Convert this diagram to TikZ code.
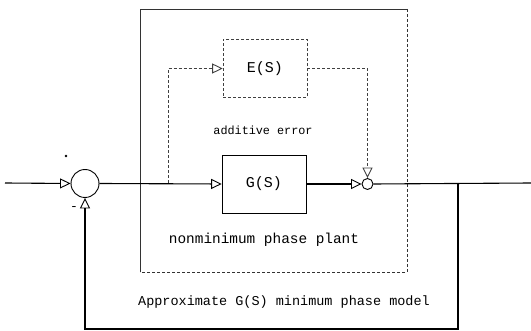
\documentclass[tikz,border=0pt]{standalone}
\usepackage{fontspec}
\setmonofont{Liberation Mono}
\usetikzlibrary{arrows.meta}
\tikzset{sig/.style={black,line width=1.1pt}, errline/.style={black!75,line width=0.6pt,densely dashed}, tri/.style={-{Triangle[open,length=10.5pt,width=10pt,line width=0.9pt]}}}
\tikzset{sumnode/.style={circle,draw,line width=0.9pt,minimum size=28pt,inner sep=0pt}, smallsum/.style={circle,draw,line width=0.9pt,minimum size=11pt,inner sep=0pt}, blockbox/.style={draw,line width=0.7pt,minimum width=84pt,minimum height=58pt}, errbox/.style={blockbox,black!75,densely dashed,line width=0.6pt}, lbl/.style={font=\ttfamily\fontsize{#1}{#1}\selectfont,inner sep=0pt}}

\begin{document}
\begin{tikzpicture}[x=1pt,y=-1pt]
   \useasboundingbox (0,0) rectangle (531,331);
   % outer plant box
   \draw[black!80,line width=0.7pt] (140,272) -- (140,9) -- (407,9);
   \draw[black!80,line width=0.7pt,densely dashed] (407,9) -- (407,272) -- (140,272);
   % blocks
   \node[sumnode] (sum) at (85,183.5) {};
   \node[smallsum] (add) at (367.5,184) {};
   \node[blockbox] (G) at (264,184) {\ttfamily\fontsize{15}{15}\selectfont G(S)};
   \node[errbox] (E) at (265,68.5) {\ttfamily\fontsize{15}{15}\selectfont\color{black}E(S)};
   \node[lbl=11.8] (adderr) at (263,130) {additive error};
   \node[lbl=14.4] (plantlbl) at (264,240) {nonminimum phase plant};
   \node[lbl=13.5] (modellbl) at (284,302) {Approximate G(S) minimum phase model};
   \node[circle,fill,inner sep=1pt] (dot) at (66,156) {};
   \node[lbl=13] (minus) at (74,209) {-};
   % points
   \coordinate (in) at (5,183);
   \coordinate (out) at (531,183);
   \coordinate (split) at (168,183);
   \coordinate (tap) at (458,183);
   \coordinate (fbk) at (458,329);
   % signal paths
   \draw[sig,tri] (in) -- (sum.west);
   \draw[sig,tri] (sum.east) -- (G.west);
   \draw[sig,tri] (G.east) -- (add.west);
   \draw[sig] (add.east) -- (out);
   \draw[sig,tri] (tap) -- (fbk) -| (sum.south);
   \draw[errline,tri] (split) |- (E.west);
   \draw[errline,tri] (E.east) -| (add.north);
\end{tikzpicture}
\end{document}
